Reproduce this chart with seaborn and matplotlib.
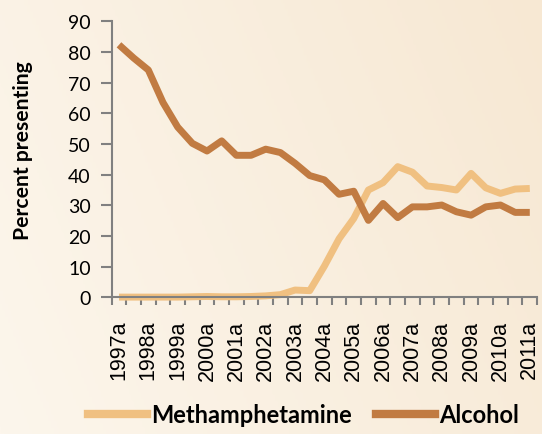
import numpy as np
import pandas as pd
import matplotlib.pyplot as plt
import seaborn as sns
from matplotlib.colors import LinearSegmentedColormap

# half-year periods 1997a .. 2011a
periods = [f"{y}{h}" for y in range(1997, 2012) for h in "ab"][:-1]
tick_labels = [f"{y}a" for y in range(1997, 2012)]

meth = [0.1, 0.1, 0.1, 0.1, 0.1, 0.2, 0.3, 0.2, 0.2, 0.3, 0.5, 0.9, 2.4, 2.2,
        10.2, 19.1, 25.7, 35.0, 37.4, 42.6, 40.8, 36.3, 35.8, 35.0, 40.4,
        35.7, 33.9, 35.3, 35.5]
alcohol = [82.3, 78.0, 74.1, 63.5, 55.5, 50.2, 47.7, 51.0, 46.3, 46.3, 48.3,
           47.2, 43.7, 39.7, 38.3, 33.6, 34.6, 25.1, 30.6, 26.0, 29.5, 29.5,
           30.1, 27.9, 26.8, 29.5, 30.1, 27.7, 27.7]

series_names = ["Methamphetamine", "Alcohol"]
colors = ["#F0C081", "#C17B42"]

df = pd.DataFrame({
    "pos": list(range(len(periods))) * 2,
    "value": meth + alcohol,
    "drug": [series_names[0]] * len(periods) + [series_names[1]] * len(periods),
})

fig = plt.figure(figsize=(5.42, 4.35), dpi=100)

# soft cream gradient background
bg_ax = fig.add_axes([0, 0, 1, 1], zorder=-10)
cmap = LinearSegmentedColormap.from_list("bg", ["#FCF6EC", "#F7E8D3"])
gx, gy = np.meshgrid(np.linspace(0, 1, 200), np.linspace(0, 1, 200))
bg_ax.imshow(0.75 * gx + 0.25 * (1 - gy), cmap=cmap, aspect="auto",
             extent=[0, 1, 0, 1], vmin=0, vmax=1)
bg_ax.axis("off")

ax = fig.add_axes([0.206, 0.314, 0.785, 0.635])
ax.patch.set_alpha(0)

sns.lineplot(data=df, x="pos", y="value", hue="drug", palette=colors,
             hue_order=series_names, linewidth=5, ax=ax, legend=False,
             clip_on=False)
for line in ax.get_lines():
    line.set_solid_capstyle("butt")

ax.set_xlim(-0.5, len(periods) - 0.5)
ax.set_ylim(0, 90)
ax.set_yticks(range(0, 91, 10))
ax.set_yticklabels([str(v) for v in range(0, 91, 10)], family="Lato", fontsize=14)

ax.set_xticks(range(0, len(periods), 2))
ax.set_xticklabels(tick_labels, rotation=90, family="Liberation Sans", fontsize=15.5)
ax.set_xticks(np.arange(-0.5, len(periods), 1), minor=True)
ax.tick_params(axis="x", which="major", length=0, pad=16)
ax.tick_params(axis="x", which="minor", length=6, width=1.5, color="#808080")
ax.tick_params(axis="y", length=8, width=1.5, color="#808080", pad=7)

for s in ["top", "right"]:
    ax.spines[s].set_visible(False)
for s in ["left", "bottom"]:
    ax.spines[s].set_color("#808080")
    ax.spines[s].set_linewidth(1.5)

ax.set_xlabel("")
ax.set_ylabel("Percent presenting", fontsize=15.2, fontweight="bold", family="Lato")
ax.yaxis.set_label_coords(-0.185, 0.535)

handles = [plt.Line2D([], [], color=c, linewidth=6) for c in colors]
fig.legend(handles, series_names, loc="center", bbox_to_anchor=(0.56, 0.045),
           ncol=2, frameon=False, handlelength=2.5, columnspacing=1.0,
           handletextpad=0.2, prop={"family": "Lato", "weight": "bold", "size": 17})

fig.savefig("out.png", dpi=100)
